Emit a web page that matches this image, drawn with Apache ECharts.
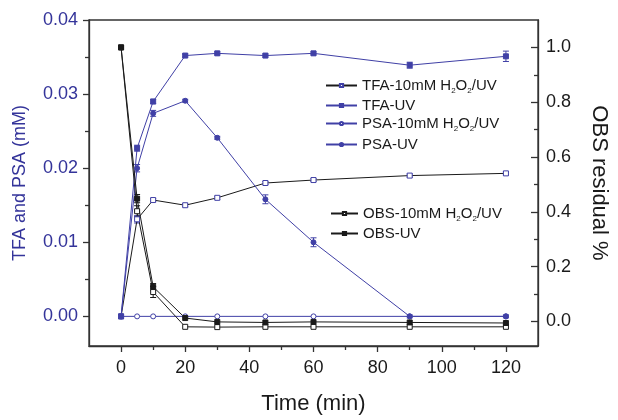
<!DOCTYPE html>
<html>
<head>
<meta charset="utf-8">
<script src="https://cdn.jsdelivr.net/npm/echarts@6/dist/echarts.min.js"></script>
<style>html,body{margin:0;padding:0;background:#fff}#c{width:618px;height:420px}</style>
</head>
<body>
<div id="c"></div>
<script>
// ---- data ----
const times = [0, 5, 10, 20, 30, 45, 60, 90, 120];
const tfaH2O2 = [0, 0.0131, 0.0157, 0.0150, 0.0160, 0.0180, 0.0184, 0.0190, 0.0193];
const tfaUV   = [0, 0.0227, 0.0290, 0.0352, 0.0355, 0.0352, 0.0355, 0.0339, 0.0351];
const psaH2O2 = [0, 0, 0, 0, 0, 0, 0, 0, 0];
const psaUV   = [0, 0.0200, 0.0274, 0.0291, 0.0241, 0.0158, 0.0100, 0.0000, 0.0000];
const obsH2O2 = [1.0, 0.402, 0.107, -0.020, -0.021, -0.020, -0.020, -0.020, -0.020];
const obsUV   = [1.0, 0.448, 0.126, 0.012, -0.002, -0.004, -0.002, -0.004, -0.006];
// error bar half-widths
const tfaH2O2Err = [0, 0.0005, 0.0002, 0.0002, 0.0002, 0.0002, 0.0002, 0.0002, 0.0002];
const tfaUVErr   = [0, 0.0004, 0.0003, 0.0002, 0.0002, 0.0002, 0.0002, 0.0004, 0.0007];
const psaUVErr   = [0, 0.0005, 0.0004, 0.0002, 0.0002, 0.0006, 0.0006, 0.0002, 0.0002];
const obsH2O2Err = [0, 0.020, 0.020, 0, 0, 0, 0, 0, 0];
const obsUVErr   = [0, 0.015, 0.012, 0, 0, 0, 0, 0, 0];
// ticks
const xMajor = [0, 20, 40, 60, 80, 100, 120];
const xMinor = [10, 30, 50, 70, 90, 110];
const yLeftMajor = [0, 0.01, 0.02, 0.03, 0.04];
const yLeftMinor = [0.005, 0.015, 0.025, 0.035];
const yRightMajor = [0, 0.2, 0.4, 0.6, 0.8, 1.0];
const yRightMinor = [0.1, 0.3, 0.5, 0.7, 0.9];
const names = ['TFA-10mM H2O2/UV', 'TFA-UV', 'PSA-10mM H2O2/UV', 'PSA-UV', 'OBS-10mM H2O2/UV', 'OBS-UV'];

const FONT = "'Liberation Sans', Arial, sans-serif";
const BLUE = '#4040a6';
const BLUE_TXT = '#34349a';
const BLACK = '#1a1a1a';
const AX = '#333';

const pair = (ys) => times.map((t, i) => [t, ys[i]]);

function lineSeries(name, ys, yIdx, lineColor, symbol, fill, border) {
  return {
    name, type: 'line', xAxisIndex: 0, yAxisIndex: yIdx, data: pair(ys),
    symbol, symbolSize: 5, showAllSymbol: true, z: 3,
    lineStyle: { color: lineColor, width: 1 },
    itemStyle: { color: fill, borderColor: border, borderWidth: 1 },
    emphasis: { disabled: true }
  };
}
function errSeries(ys, errs, yIdx, color) {
  return {
    type: 'custom', xAxisIndex: 0, yAxisIndex: yIdx, silent: true, z: 2,
    data: times.map((t, i) => [t, ys[i], errs[i]]),
    encode: { x: 0, y: 1 },
    renderItem: function (params, api) {
      const x = api.value(0), y = api.value(1), e = api.value(2);
      if (!e) return null;
      const a = api.coord([x, y + e]), b = api.coord([x, y - e]);
      const w = 3;
      const st = { stroke: color, lineWidth: 1 };
      return { type: 'group', children: [
        { type: 'line', shape: { x1: a[0], y1: a[1], x2: b[0], y2: b[1] }, style: st },
        { type: 'line', shape: { x1: a[0] - w, y1: a[1], x2: a[0] + w, y2: a[1] }, style: st },
        { type: 'line', shape: { x1: b[0] - w, y1: b[1], x2: b[0] + w, y2: b[1] }, style: st }
      ]};
    }
  };
}
function fmt(name) {
  if (name.indexOf('H2O2') < 0) return '{n|' + name + '}';
  const p = name.split('H2O2');
  return '{n|' + p[0] + 'H}{s|2}{n|O}{s|2}{n|' + p[1] + '}';
}
function legendItem(name, left, centerY, w) {
  return {
    data: [name], left: left, top: centerY - 6, itemWidth: w, itemHeight: 4, padding: 0, itemGap: 0,
    selectedMode: false, formatter: fmt,
    textStyle: { fontFamily: FONT, fontSize: 15, color: BLACK,
      rich: { n: { fontFamily: FONT, fontSize: 15, color: BLACK, lineHeight: 19 },
              s: { fontFamily: FONT, fontSize: 8, color: BLACK, lineHeight: 8, verticalAlign: 'bottom' } } }
  };
}
const tickStyle = { color: AX, width: 1.3 };

const option = {
  animation: false,
  backgroundColor: '#fff',
  grid: { left: 89, right: 74, top: 20, bottom: 73, show: true, borderColor: AX, borderWidth: 1.3, backgroundColor: 'transparent' },
  legend: [
    legendItem(names[0], 325, 84, 31),
    legendItem(names[1], 325, 104, 31),
    legendItem(names[2], 325, 122, 31),
    legendItem(names[3], 325, 143, 31),
    legendItem(names[4], 330, 212, 27),
    legendItem(names[5], 330, 232, 27)
  ],
  xAxis: [
    { type: 'value', min: -10, max: 130, position: 'bottom',
      axisLine: { show: true, onZero: false, lineStyle: { color: AX, width: 1.3 } },
      axisTick: { show: true, customValues: xMajor, length: 6, lineStyle: tickStyle },
      axisLabel: { customValues: xMajor, fontSize: 18, fontFamily: FONT, color: BLACK, margin: 13 },
      splitLine: { show: false },
      name: 'Time (min)', nameLocation: 'middle', nameGap: 47,
      nameTextStyle: { fontSize: 22, fontFamily: FONT, color: BLACK } },
    { type: 'value', min: -10, max: 130, position: 'bottom',
      axisLine: { show: false, onZero: false },
      axisTick: { show: true, customValues: xMinor, length: 4, lineStyle: tickStyle },
      axisLabel: { show: false }, splitLine: { show: false } }
  ],
  yAxis: [
    { type: 'value', min: -0.004, max: 0.04, position: 'left',
      axisLine: { show: true, onZero: false, lineStyle: { color: AX, width: 1.3 } },
      axisTick: { show: true, customValues: yLeftMajor, length: 6, lineStyle: tickStyle },
      axisLabel: { customValues: yLeftMajor, formatter: v => v.toFixed(2), fontSize: 18, fontFamily: FONT, color: BLUE_TXT, margin: 11 },
      splitLine: { show: false },
      name: 'TFA and PSA (mM)', nameLocation: 'middle', nameGap: 60,
      nameTextStyle: { fontSize: 18, fontFamily: FONT, color: BLUE_TXT } },
    { type: 'value', min: -0.004, max: 0.04, position: 'left',
      axisLine: { show: false, onZero: false },
      axisTick: { show: true, customValues: yLeftMinor, length: 4, lineStyle: tickStyle },
      axisLabel: { show: false }, splitLine: { show: false } },
    { type: 'value', min: -0.09, max: 1.1, position: 'right',
      axisLine: { show: true, onZero: false, lineStyle: { color: AX, width: 1.3 } },
      axisTick: { show: true, inside: true, customValues: yRightMajor, length: 7, lineStyle: tickStyle },
      axisLabel: { customValues: yRightMajor, formatter: v => v.toFixed(1), fontSize: 18, fontFamily: FONT, color: BLACK, margin: 8 },
      splitLine: { show: false },
      name: 'OBS residual %', nameLocation: 'middle', nameGap: 50, nameRotate: -90,
      nameTextStyle: { fontSize: 22, fontFamily: FONT, color: BLACK } },
    { type: 'value', min: -0.09, max: 1.1, position: 'right',
      axisLine: { show: false, onZero: false },
      axisTick: { show: true, inside: true, customValues: yRightMinor, length: 4, lineStyle: tickStyle },
      axisLabel: { show: false }, splitLine: { show: false } }
  ],
  series: [
    errSeries(tfaH2O2, tfaH2O2Err, 0, BLUE),
    errSeries(tfaUV, tfaUVErr, 0, BLUE),
    errSeries(psaUV, psaUVErr, 0, BLUE),
    errSeries(obsH2O2, obsH2O2Err, 2, BLACK),
    errSeries(obsUV, obsUVErr, 2, BLACK),
    lineSeries(names[0], tfaH2O2, 0, BLACK, 'rect', '#ffffff', BLUE),
    lineSeries(names[1], tfaUV, 0, BLUE, 'rect', BLUE, BLUE),
    lineSeries(names[2], psaH2O2, 0, BLUE, 'circle', '#ffffff', BLUE),
    lineSeries(names[3], psaUV, 0, BLUE, 'circle', BLUE, BLUE),
    lineSeries(names[4], obsH2O2, 2, BLACK, 'rect', '#ffffff', BLACK),
    lineSeries(names[5], obsUV, 2, BLACK, 'rect', BLACK, BLACK)
  ]
};
const chart = echarts.init(document.getElementById('c'), null, { renderer: 'canvas' });
chart.setOption(option);
</script>
</body>
</html>
